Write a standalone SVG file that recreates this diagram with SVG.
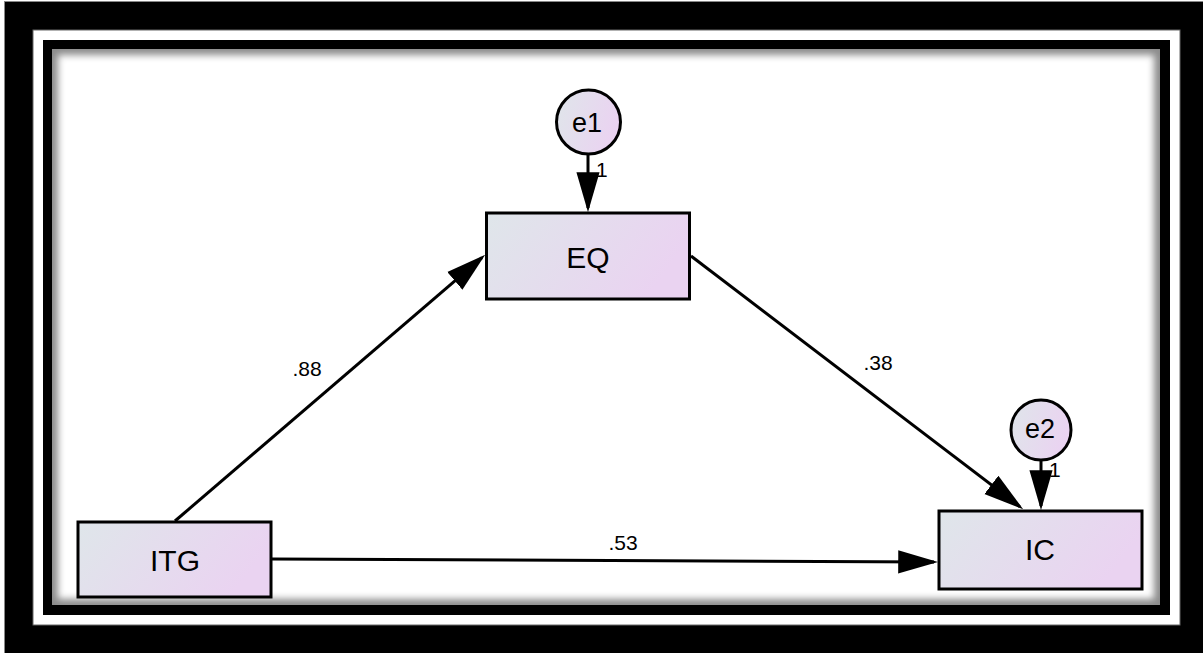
<svg xmlns="http://www.w3.org/2000/svg" width="1203" height="653" viewBox="0 0 1203 653">
  <style>
    .box { stroke: #000; stroke-width: 3; fill: url(#nodeFill); }
    .err { stroke: #000; stroke-width: 3; fill: url(#nodeFill); }
    .name { font-family: "Liberation Sans", Arial, sans-serif; font-size: 30px; fill: #000; text-anchor: middle; }
    .ename { font-family: "Liberation Sans", Arial, sans-serif; font-size: 27px; fill: #000; text-anchor: middle; }
    .coef { font-family: "Liberation Sans", Arial, sans-serif; font-size: 21px; fill: #000; text-anchor: middle; }
    .fix { font-family: "Liberation Sans", Arial, sans-serif; font-size: 21px; fill: #000; }
    .path { stroke: #000; stroke-width: 3; fill: none; marker-end: url(#arrow); }
  </style>
  <defs>
    <linearGradient id="nodeFill" x1="0" y1="0" x2="1" y2="0.3">
      <stop offset="0" stop-color="#dfe6ea"/>
      <stop offset="1" stop-color="#ead3f1"/>
    </linearGradient>
    <marker id="arrow" markerUnits="userSpaceOnUse" markerWidth="40" markerHeight="24" viewBox="0 0 38 22" refX="34" refY="11" orient="auto">
      <path d="M0,0 L38,11 L0,22 Z" fill="#000"/>
    </marker>
    <filter id="soft" x="-5%" y="-5%" width="110%" height="110%">
      <feGaussianBlur stdDeviation="3.5"/>
    </filter>
    <clipPath id="panelClip">
      <rect x="52" y="49" width="1108" height="556"/>
    </clipPath>
  </defs>

  <!-- framing -->
  <rect x="0" y="0" width="1203" height="653" fill="#fff"/>
  <rect x="4.5" y="1.5" width="1200" height="653" fill="#000" stroke="#888" stroke-width="1"/>
  <rect x="33" y="30" width="1147" height="595" fill="#fff" stroke="#666" stroke-width="1"/>
  <rect x="43" y="40" width="1127" height="575" fill="#000"/>
  <g clip-path="url(#panelClip)">
    <rect x="52" y="49" width="1108" height="556" fill="#8c8c8c"/>
    <rect x="58" y="55" width="1096" height="544" fill="#fff" filter="url(#soft)"/>
  </g>

  <!-- connectors -->
  <g id="connectors">
    <path class="path" d="M175,521 L482,257.6"/>
    <path class="path" d="M691,256 L1019.8,506.6"/>
    <path class="path" d="M272,559 L934,562"/>
    <path class="path" d="M588,155 L588,208"/>
    <path class="path" d="M1041,461 L1041,506"/>
    <text class="coef" x="307" y="376">.88</text>
    <text class="coef" x="878" y="370">.38</text>
    <text class="coef" x="623" y="550">.53</text>
    <text class="fix" x="596" y="177">1</text>
    <text class="fix" x="1049" y="477">1</text>
  </g>

  <!-- nodes -->
  <g id="node-EQ">
    <rect class="box" x="486.5" y="213" width="203" height="86"/>
    <text class="name" x="588" y="268">EQ</text>
  </g>
  <g id="node-ITG">
    <rect class="box" x="78" y="522" width="193" height="75"/>
    <text class="name" x="175" y="571">ITG</text>
  </g>
  <g id="node-IC">
    <rect class="box" x="939" y="511" width="203" height="78"/>
    <text class="name" x="1040" y="560">IC</text>
  </g>
  <g id="node-e1">
    <circle class="err" cx="588.5" cy="122" r="32"/>
    <text class="ename" x="587" y="132">e1</text>
  </g>
  <g id="node-e2">
    <circle class="err" cx="1041" cy="430" r="30"/>
    <text class="ename" x="1040" y="438">e2</text>
  </g>
</svg>
